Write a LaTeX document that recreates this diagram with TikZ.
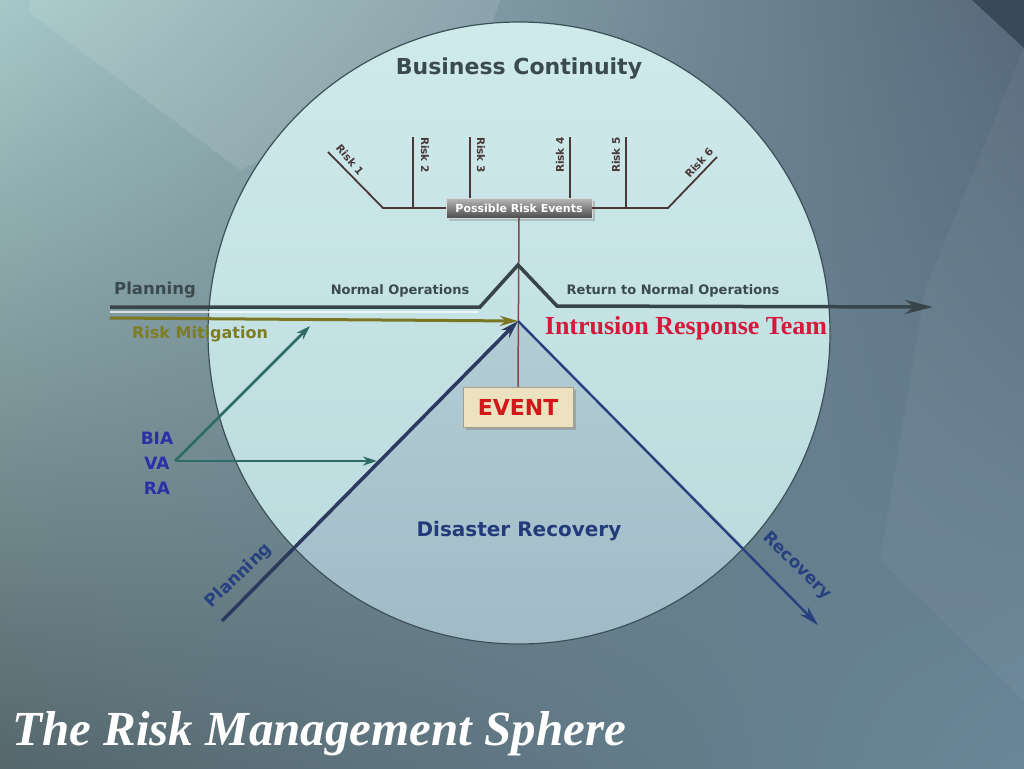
\documentclass[tikz,border=0pt]{standalone}
\usepackage{fontspec}
\setmainfont{DejaVu Sans}
\newfontfamily\irtfont{Liberation Serif}
\usetikzlibrary{arrows.meta,positioning,shadows,shadings}

\definecolor{bgUL}{HTML}{A6C8C9}
\definecolor{bgUR}{HTML}{56697A}
\definecolor{bgLL}{HTML}{55676D}
\definecolor{bgLR}{HTML}{6A8799}
\definecolor{bgCorner}{HTML}{3B4858}
\definecolor{sphereTop}{HTML}{CFEAEB}
\definecolor{sphereBot}{HTML}{B9D9DC}
\definecolor{drTop}{HTML}{B3CDD5}
\definecolor{drBot}{HTML}{9CB7C3}
\definecolor{rim}{HTML}{3D5057}
\definecolor{fishcol}{HTML}{4A3838}
\definecolor{stemcol}{HTML}{7A4B4B}
\definecolor{opsdark}{HTML}{37444A}
\definecolor{olivetxt}{HTML}{7D7D22}
\definecolor{oliveline}{HTML}{A39E2E}
\definecolor{navy}{HTML}{27407F}
\definecolor{planblue}{HTML}{2C3A62}
\definecolor{tealcol}{HTML}{2F6B66}
\definecolor{labblue}{HTML}{2B2FA8}
\definecolor{drtext}{HTML}{233B7A}
\definecolor{irtred}{HTML}{D4193A}
\definecolor{eventred}{HTML}{D01818}
\definecolor{eventfill}{HTML}{EDE2BF}
\definecolor{greytext}{HTML}{3A4A4E}

\tikzset{
  fs/.style={font=\fontsize{#1}{#1}\selectfont\bfseries},
  risklabel/.style={fs=10.5, text=fishcol, inner sep=1pt},
  fish/.style={draw=fishcol, line width=1.8pt},
  stem/.style={draw=stemcol, line width=1.5pt},
  opsline/.style={draw=opsdark, line width=3.5pt, line join=miter,
    -{Stealth[length=28pt, width=14pt, fill=opsdark!70]}},
  mitline/.style={draw=oliveline!75!black, line width=3pt,
    -{Stealth[length=18pt, width=10pt, fill=oliveline]}},
  planline/.style={draw=planblue, line width=3.5pt,
    -{Stealth[length=18pt, width=11pt, fill=navy!80!white]}},
  recline/.style={draw=navy, line width=2.4pt,
    -{Stealth[length=20pt, width=11pt, fill=navy]}},
  tealarrow/.style={draw=tealcol, line width=2.6pt,
    -{Stealth[length=14pt, width=9pt, fill=tealcol]}},
  prebox/.style={top color=gray!55, bottom color=black!70, draw=gray!30,
    text=white, fs=11, minimum width=146pt, minimum height=20pt,
    inner sep=2pt, drop shadow={opacity=.4}},
  eventbox/.style={fill=eventfill, draw=eventfill!70!black, text=eventred,
    fs=22, minimum width=110pt, minimum height=40pt,
    drop shadow={opacity=.45}},
}

\begin{document}
\begin{tikzpicture}[x=1pt, y=-1pt]
\useasboundingbox (0,0) rectangle (1024,768);

% background
\shade[upper left=bgUL, upper right=bgUR, lower left=bgLL, lower right=bgLR]
  (0,0) rectangle (1024,768);
\fill[white, fill opacity=.10]
  (30,0) -- (500,0) -- (480,60) -- (240,170) -- (30,13) -- cycle;
\fill[bgCorner] (972,0) -- (1024,0) -- (1024,48) -- cycle;
\fill[white, fill opacity=.04] (1024,48) -- (925,290) -- (880,560) -- (1024,700) -- cycle;

% the sphere
\shade[top color=sphereTop, bottom color=sphereBot] (519,333) circle (311);
\begin{scope}
  \clip (519,333) circle (311);
  \shade[top color=drTop, bottom color=drBot]
    (519,322) -- (119,722) -- (919,722) -- cycle;
\end{scope}
\draw[rim, line width=1.2pt] (519,333) circle (311);

\node[fs=22, text=greytext] (bc) at (519,69) {Business Continuity};

% possible risk events
\node[prebox] (pre) at (519,208) {Possible Risk Events};
\coordinate (j1) at (383,208);
\coordinate (j6) at (668,208);
\coordinate (r1) at (328,152);
\coordinate (r6) at (717,157);
\draw[fish] (r1) -- (j1) -- (pre.west);
\draw[fish] (pre.east) -- (j6) -- (r6);
\draw[fish] (413,137) -- (413,208);
\draw[fish] (470,137) -- (470,198);
\draw[fish] (570,137) -- (570,198);
\draw[fish] (626,137) -- (626,208);
\node[risklabel, rotate=-50] (risk1) at (350,160) {Risk 1};
\node[risklabel, rotate=-90] (risk2) at (425,155) {Risk 2};
\node[risklabel, rotate=-90] (risk3) at (481,155) {Risk 3};
\node[risklabel, rotate=90] (risk4) at (560,155) {Risk 4};
\node[risklabel, rotate=90] (risk5) at (616,155) {Risk 5};
\node[risklabel, rotate=48] (risk6) at (699,163) {Risk 6};

% event
\node[eventbox] (event) at (518,407) {EVENT};
\draw[stem] (pre.south) -- (event.north);

% operations line
\coordinate (opsA) at (110,307);
\coordinate (opsB) at (480,307);
\coordinate (apex) at (518,265);
\coordinate (opsC) at (557,306);
\coordinate (opsD) at (933,307);
\draw[white, opacity=.7, line width=1.5pt] (110,312) -- (478,312);
\draw[opsline] (opsA) -- (opsB) -- (apex) -- (opsC) -- (opsD);

% risk mitigation
\coordinate (mitA) at (110,318);
\coordinate (tip) at (518,321);
\draw[mitline] (mitA) -- (tip);

% planning / recovery
\coordinate (planA) at (222,621);
\coordinate (recB) at (818,625);
\draw[planline] (planA) -- (tip);
\draw[recline] (tip) -- (recB);

% assessments
\node[font=\fontsize{17}{25}\selectfont\bfseries, text=labblue, align=center]
  (bvr) at (157,463) {BIA\\VA\\RA};
\coordinate (fork) at (175,461);
\coordinate (forkUp) at (310,326);
\coordinate (forkRt) at (377,461);
\draw[tealarrow] (fork) -- (forkUp);
\draw[tealarrow] (fork) -- (forkRt);

% labels
\node[fs=16.5, text=greytext] (plan) at (155,290) {Planning};
\node[fs=16, text=olivetxt] (miti) at (200,334) {Risk Mitigation};
\node[fs=13, text=greytext] (normal) at (400,291) {Normal Operations};
\node[fs=13, text=greytext] (return) at (673,291) {Return to Normal Operations};
\node[font=\irtfont\fontsize{26}{26}\selectfont\bfseries, text=irtred]
  (irt) at (686,328) {Intrusion Response Team};
\node[fs=20, text=drtext] (dr) at (519,531) {Disaster Recovery};
\node[fs=17, text=navy, rotate=44] (planlab) at (239,576) {Planning};
\node[fs=17, text=navy, rotate=-44] (reclab) at (797,566) {Recovery};

\node[font=\irtfont\fontsize{49}{49}\selectfont\bfseries\itshape, text=white,
  anchor=base west, inner sep=0pt] (title) at (12,745) {The Risk Management Sphere};
\end{tikzpicture}
\end{document}
